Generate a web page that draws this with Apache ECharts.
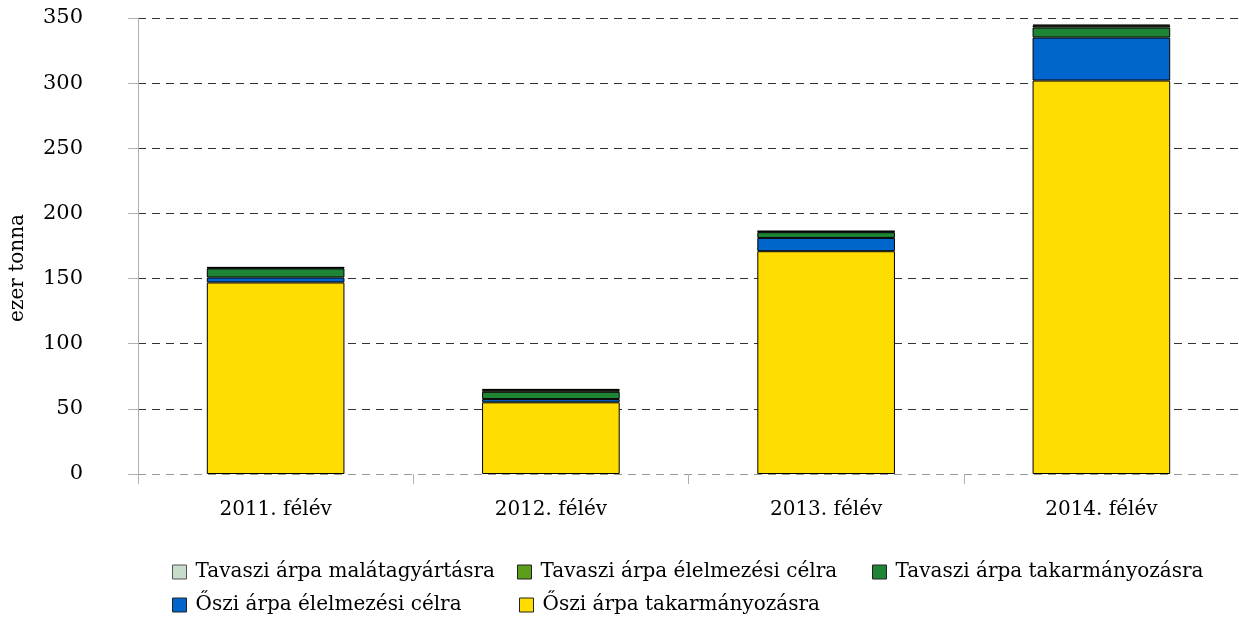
<!DOCTYPE html>
<html>
<head>
<meta charset="utf-8">
<script src="https://cdn.jsdelivr.net/npm/echarts@6/dist/echarts.min.js"></script>
<style>
	html, body { margin: 0; padding: 0; background: #fff; }
	#chart { width: 1239px; height: 621px; }
</style>
</head>
<body>
<div id="chart"></div>
<script>
// kategóriák
var categories = ['2011. félév', '2012. félév', '2013. félév', '2014. félév'];

// sorozatok (ezer tonna), alulról felfelé
var osziTakarmany = [147, 55, 171, 302];
var osziElelmezes = [3.8, 2.5, 10.2, 33];
var tavasziTakarmany = [7, 5.6, 4.4, 7.7];
var tavasziElelmezes = [0.6, 1.5, 0.6, 1.5];
var tavasziMalata = [0.3, 0.6, 0.3, 0.6];

var yTicks = { min: 0, max: 350, interval: 50 };

// a forrás széthúzott Times betűjéhez a DejaVu Serif méretei illenek
var serif = '"DejaVu Serif", "Liberation Serif", serif';

var chart = echarts.init(document.getElementById('chart'));

function bar(name, data, color) {
	return {
		name: name,
		type: 'bar',
		stack: 'total',
		barWidth: '50%',
		itemStyle: { color: color, borderColor: '#000', borderWidth: 1 },
		emphasis: { disabled: true },
		data: data
	};
}

// minden jelmagyarázat-elem külön, a forrás szerinti helyen
function legendItem(name, left, top, border) {
	return {
		left: left, top: top,
		icon: 'rect',
		itemWidth: 14, itemHeight: 14,
		selectedMode: false,
		textStyle: { fontFamily: serif, fontSize: 20, lineHeight: 20, color: '#000', padding: [0, 0, 0, 4] },
		data: [{ name: name, itemStyle: { borderColor: border, borderWidth: 1 } }]
	};
}

var options = {
	animation: false,
	backgroundColor: '#fff',
	grid: { left: 138, right: 0, top: 18, bottom: 147, containLabel: false },
	legend: [
		legendItem('Tavaszi árpa malátagyártásra', 167, 557, '#555'),
		legendItem('Tavaszi árpa élelmezési célra', 512, 557, '#222'),
		legendItem('Tavaszi árpa takarmányozásra', 867, 557, '#222'),
		legendItem('Őszi árpa élelmezési célra', 167, 590, '#222'),
		legendItem('Őszi árpa takarmányozásra', 514, 590, '#222')
	],
	graphic: [{
		type: 'text',
		x: 18, y: 268,
		rotation: Math.PI / 2,
		style: {
			text: 'ezer tonna',
			font: '20px "DejaVu Serif"',
			fill: '#000',
			align: 'center',
			verticalAlign: 'middle'
		}
	}],
	xAxis: {
		type: 'category',
		data: categories,
		axisLine: { show: false },
		axisTick: { show: true, length: 10, lineStyle: { color: '#b0b0b0' } },
		axisLabel: { fontFamily: serif, fontSize: 20, color: '#000', margin: 26 }
	},
	yAxis: {
		type: 'value',
		min: yTicks.min,
		max: yTicks.max,
		interval: yTicks.interval,
		axisLine: { show: true, lineStyle: { color: '#b0b0b0' } },
		axisTick: { show: true, length: 10, lineStyle: { color: '#b0b0b0' } },
		axisLabel: { fontFamily: serif, fontSize: 21, color: '#000', margin: 55 },
		splitLine: {
			show: true,
			lineStyle: {
				color: ['#999', '#333', '#333', '#333', '#333', '#333', '#333', '#333'],
				type: [8, 6], width: 1
			}
		}
	},
	series: [
		bar('Őszi árpa takarmányozásra', osziTakarmany, '#ffdd00'),
		bar('Őszi árpa élelmezési célra', osziElelmezes, '#0066cc'),
		bar('Tavaszi árpa takarmányozásra', tavasziTakarmany, '#1e8535'),
		bar('Tavaszi árpa élelmezési célra', tavasziElelmezes, '#5a9e1a'),
		bar('Tavaszi árpa malátagyártásra', tavasziMalata, '#c8dccb')
	]
};

chart.setOption(options);
</script>
</body>
</html>
